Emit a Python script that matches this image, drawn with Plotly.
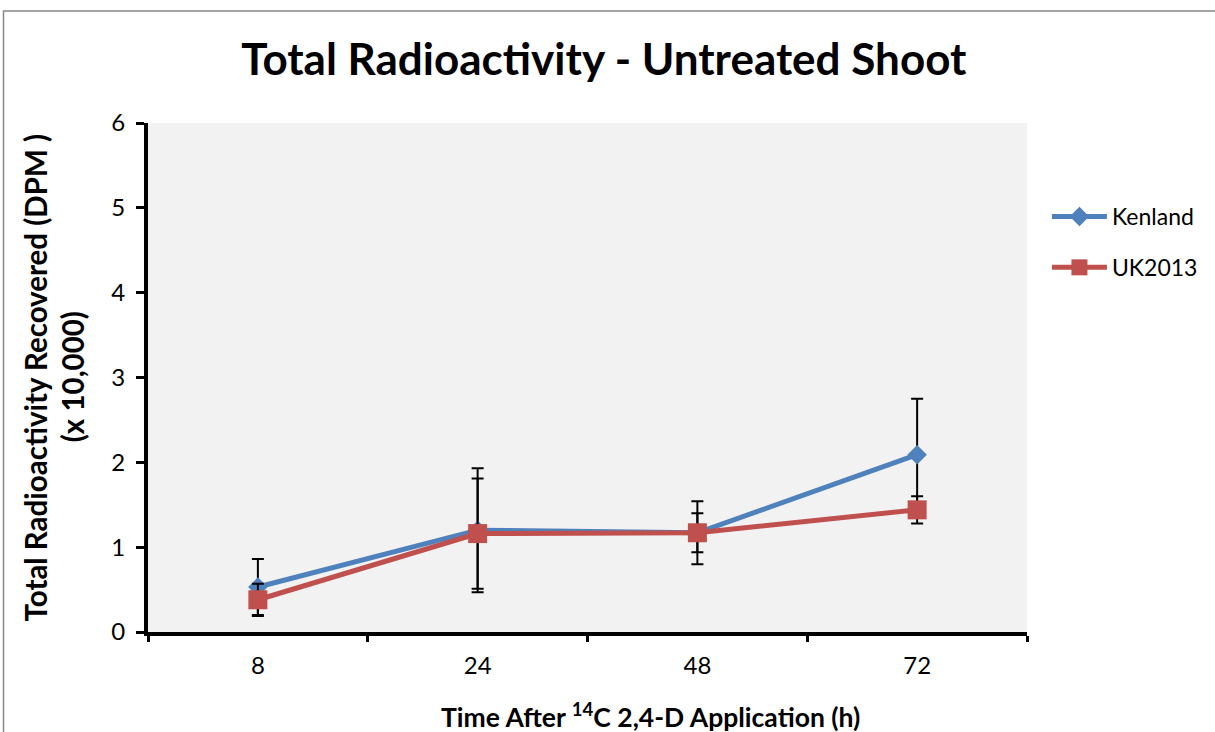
import plotly.graph_objects as go

categories = ["8", "24", "48", "72"]
kenland = [0.53, 1.20, 1.17, 2.09]
kenland_err = [0.33, 0.73, 0.37, 0.66]
uk2013 = [0.38, 1.16, 1.17, 1.44]
uk2013_err = [0.19, 0.65, 0.23, 0.16]
y_ticks = [0, 1, 2, 3, 4, 5, 6]

FONT = "Lato"
BLUE = "#4F81BD"
RED = "#C0504D"

# plot-area geometry (pixels)
L, R, T, B = 148, 1030, 123, 632
W, H = 1215, 732
PW, PH = R - L, B - T

def px_x(x):
    return (x - L) / PW

def px_y(y):
    return (B - y) / PH

fig = go.Figure()
fig.add_trace(go.Scatter(
    x=categories, y=kenland, name="Kenland", mode="lines+markers",
    line=dict(color=BLUE, width=5),
    marker=dict(symbol="diamond", size=15, color=BLUE),
    error_y=dict(type="data", array=kenland_err, visible=True, color="black", thickness=2, width=6),
    legendgroup="k",
))
fig.add_trace(go.Scatter(
    x=categories, y=uk2013, name="UK2013", mode="lines+markers",
    line=dict(color=RED, width=5),
    marker=dict(symbol="square", size=19, color=RED),
    error_y=dict(type="data", array=uk2013_err, visible=True, color="black", thickness=2, width=6),
    legendgroup="u",
))

fig.update_layout(
    width=W, height=H,
    margin=dict(l=L, r=W - R, t=T, b=H - B),
    paper_bgcolor="white", plot_bgcolor="#F2F2F2",
    font=dict(family=FONT, color="black", size=22),
    title=dict(text="<b>Total Radioactivity - Untreated Shoot</b>", x=0.497, xanchor="center",
               y=1 - 60 / H, yanchor="middle", font=dict(size=44, family=FONT)),
    legend=dict(x=px_x(1050), y=px_y(195), xanchor="left", yanchor="top", tracegroupgap=18,
                itemwidth=55, font=dict(size=23), bgcolor="rgba(0,0,0,0)"),
    showlegend=True,
)
fig.update_xaxes(
    type="category", range=[-0.5, 3.5], tickson="boundaries",
    showline=True, linecolor="black", linewidth=4,
    ticks="outside", ticklen=6, tickwidth=3, tickcolor="black",
    showgrid=False, zeroline=False,
    tickfont=dict(size=24), ticklabelstandoff=9,
)
fig.update_yaxes(
    range=[0, 6], tickvals=y_ticks,
    showline=True, linecolor="black", linewidth=4,
    ticks="outside", ticklen=8, tickwidth=3, tickcolor="black",
    showgrid=False, zeroline=False,
    tickfont=dict(size=24), ticklabelstandoff=6,
)
# axis titles as annotations for precise placement
fig.add_annotation(text="<b>Time After <sup>14</sup>C 2,4-D Application (h)</b>",
                   xref="paper", yref="paper", x=px_x(652), y=px_y(715),
                   xanchor="center", yanchor="middle", showarrow=False, font=dict(size=26.5))
fig.add_annotation(text="<b>Total Radioactivity Recovered (DPM )</b>",
                   xref="paper", yref="paper", x=px_x(35), y=px_y(377), textangle=-90,
                   xanchor="center", yanchor="middle", showarrow=False, font=dict(size=29.5))
fig.add_annotation(text="<b>(x 10,000)</b>",
                   xref="paper", yref="paper", x=px_x(72), y=px_y(377), textangle=-90,
                   xanchor="center", yanchor="middle", showarrow=False, font=dict(size=29.5))
# outer chart-area frame
fig.add_shape(type="rect", xref="paper", yref="paper",
              x0=px_x(3), x1=1.5, y0=-0.5, y1=px_y(11),
              line=dict(color="#888888", width=1.5), fillcolor="rgba(0,0,0,0)", layer="below")

fig.write_html("out.html", config={"displayModeBar": False},
               post_script="document.body.style.margin='0px';")
